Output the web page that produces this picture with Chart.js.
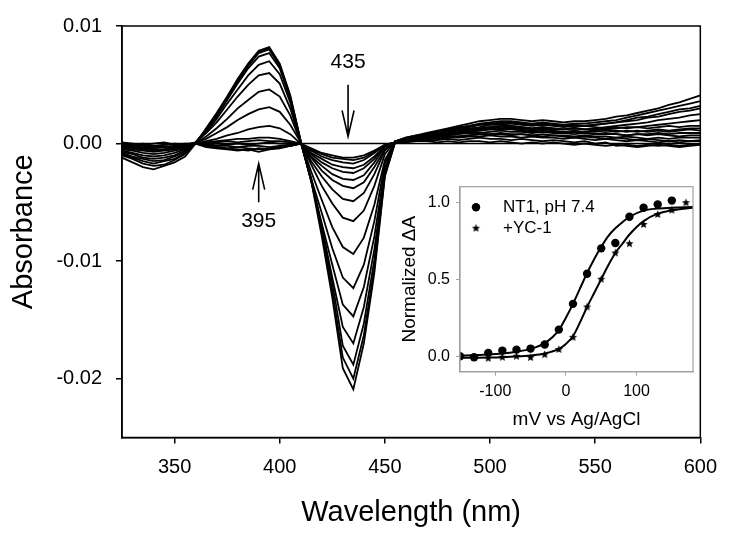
<!DOCTYPE html>
<html>
<head>
<meta charset="utf-8">
<script src="https://cdn.jsdelivr.net/npm/chart.js@4.4.0/dist/chart.umd.min.js"></script>
<style>
html, body { margin: 0; padding: 0; background: #fff; }
#wrap { position: relative; width: 729px; height: 539px; }
#main { position: absolute; left: 0; top: 0; }
#inset { position: absolute; left: 395px; top: 170px; }
</style>
</head>
<body>
<div id="wrap">
<canvas id="main" width="729" height="539"></canvas>
<canvas id="inset" width="310" height="270"></canvas>
</div>
<script>
// wavelength grid (nm)
const wavelength = [325,330,335,340,345,350,355,360,365,370,375,380,385,390,395,400,405,410,
  415,420,425,430,435,440,445,450,455,460,465,470,475,480,485,490,495,500,505,510,515,520,
  525,530,535,540,545,550,555,560,565,570,575,580,585,590,595,600];

// difference spectra, shallow -> deep
const spec01 = [0,-0.0001,0,-0.0002,-0.0001,0,-0.0001,0, -0.0002,-0.0003,-0.0004,-0.0005,-0.0006,-0.0004,-0.0005,-0.0003,-0.0002,0,
  -0.0004,-0.0008,-0.0010,-0.0012,-0.0012,-0.0010,-0.0006,-0.0001,0.0001,
  0.0001,0.0002,0.0002,0.0001,0.0002,0.0001,0.0002,0.0002,0.0001,0.0002,0.0001,0,0.0001,0,0.0001,0,-0.0001,0,-0.0001,-0.0002,-0.0001,-0.0002,-0.0003,-0.0002,-0.0001,-0.0002,-0.0003,-0.0002,-0.0001];
const spec02 = [-0.0001,-0.0002,-0.0003,-0.0002,-0.0003,-0.0002,-0.0001,0, -0.0003,-0.0004,-0.0005,-0.0006,-0.0005,-0.0007,-0.0005,-0.0004,-0.0002,0,
  -0.0005,-0.0009,-0.0012,-0.0013,-0.0014,-0.0012,-0.0007,-0.0001,0.0001,
  0.0002,0.0003,0.0004,0.0005,0.0006,0.0006,0.0007,0.0008,0.0008,0.0008,0.0007,0.0008,0.0007,0.0006,0.0007,0.0006,0.0005,0.0006,0.0005,0.0004,0.0005,0.0004,0.0003,0.0004,0.0003,0.0002,0.0003,0.0002,0.0003];
const spec03 = [0.0001,0,-0.0001,0,0.0001,-0.0001,0,0, -0.0002,-0.0003,-0.0004,-0.0003,-0.0004,-0.0005,-0.0004,-0.0003,-0.0002,0,
  -0.0006,-0.0011,-0.0014,-0.0016,-0.0017,-0.0014,-0.0008,-0.0001,0.0001,
  0.0003,0.0004,0.0006,0.0007,0.0008,0.0009,0.0010,0.0011,0.0012,0.0012,0.0012,0.0011,0.0010,0.0011,0.0010,0.0009,0.0010,0.0009,0.0008,0.0009,0.0008,0.0007,0.0008,0.0007,0.0008,0.0007,0.0006,0.0007,0.0007];
const spec04 = [-0.0002,-0.0003,-0.0004,-0.0004,-0.0003,-0.0004,-0.0002,0, -0.0001,-0.0002,-0.0002,-0.0003,-0.0002,-0.0002,-0.0003,-0.0002,-0.0001,0,
  -0.0008,-0.0013,-0.0018,-0.0020,-0.0021,-0.0018,-0.0011,-0.0002,0.0001,
  0.0004,0.0005,0.0007,0.0008,0.0010,0.0011,0.0012,0.0013,0.0014,0.0015,0.0015,0.0014,0.0013,0.0014,0.0013,0.0012,0.0013,0.0012,0.0011,0.0012,0.0011,0.0010,0.0011,0.0010,0.0011,0.0010,0.0011,0.0012,0.0011];
const spec05 = [-0.0001,-0.0002,-0.0001,-0.0002,-0.0003,-0.0002,-0.0001,0, -0.0001,0,-0.0001,0,-0.0001,0,0.0001,0,0,0,
  -0.0009,-0.0016,-0.0021,-0.0024,-0.0025,-0.0021,-0.0013,-0.0002,0.0001,
  0.0004,0.0006,0.0008,0.0010,0.0012,0.0013,0.0015,0.0016,0.0017,0.0018,0.0018,0.0017,0.0016,0.0017,0.0016,0.0015,0.0014,0.0015,0.0014,0.0013,0.0014,0.0013,0.0014,0.0013,0.0014,0.0015,0.0014,0.0015,0.0015];
const spec06 = [-0.0003,-0.0004,-0.0004,-0.0005,-0.0005,-0.0004,-0.0002,0, 0,0.0001,0.0002,0.0001,0.0002,0.0003,0.0002,0.0002,0.0001,0,
  -0.0011,-0.0019,-0.0026,-0.0030,-0.0031,-0.0027,-0.0016,-0.0003,0.0001,
  0.0004,0.0005,0.0006,0.0007,0.0009,0.0010,0.0011,0.0012,0.0013,0.0013,0.0014,0.0013,0.0012,0.0013,0.0012,0.0012,0.0013,0.0012,0.0013,0.0014,0.0015,0.0016,0.0017,0.0018,0.0020,0.0021,0.0022,0.0024,0.0025];
const spec07 = [-0.0002,-0.0001,-0.0003,-0.0003,-0.0002,-0.0003,-0.0001,0.0001, 0.0001,0.0002,0.0003,0.0004,0.0004,0.0005,0.0005,0.0004,0.0002,0,
  -0.0012,-0.0023,-0.0031,-0.0036,-0.0038,-0.0033,-0.0020,-0.0005,0.0001,
  0.0004,0.0006,0.0007,0.0009,0.0010,0.0012,0.0013,0.0014,0.0016,0.0016,0.0017,0.0016,0.0015,0.0016,0.0015,0.0014,0.0015,0.0015,0.0016,0.0017,0.0018,0.0020,0.0022,0.0023,0.0025,0.0027,0.0029,0.0030,0.0032];
const spec08 = [-0.0003,-0.0004,-0.0005,-0.0006,-0.0005,-0.0004,-0.0002,0, 0.0002,0.0004,0.0007,0.0009,0.0012,0.0014,0.0015,0.0013,0.0008,0,
  -0.0015,-0.0028,-0.0039,-0.0047,-0.0049,-0.0042,-0.0026,-0.0006,0.0002,
  0.0005,0.0007,0.0008,0.0010,0.0012,0.0014,0.0015,0.0017,0.0018,0.0019,0.0019,0.0018,0.0017,0.0018,0.0017,0.0016,0.0017,0.0017,0.0018,0.0019,0.0020,0.0022,0.0024,0.0026,0.0028,0.0030,0.0032,0.0034,0.0036];
const spec09 = [-0.0004,-0.0005,-0.0006,-0.0007,-0.0006,-0.0005,-0.0003,0.0001, 0.0004,0.0009,0.0014,0.0020,0.0025,0.0029,0.0031,0.0027,0.0016,0.0001,
  -0.0018,-0.0036,-0.0051,-0.0063,-0.0066,-0.0057,-0.0036,-0.0009,0.0002,
  0.0005,0.0007,0.0009,0.0011,0.0013,0.0015,0.0017,0.0019,0.0020,0.0021,0.0021,0.0020,0.0019,0.0020,0.0019,0.0018,0.0019,0.0019,0.0020,0.0021,0.0023,0.0024,0.0026,0.0028,0.0030,0.0033,0.0035,0.0038,0.0041];
const spec10 = [-0.0005,-0.0006,-0.0008,-0.0009,-0.0008,-0.0006,-0.0004,0, 0.0006,0.0013,0.0021,0.0030,0.0037,0.0044,0.0046,0.0040,0.0024,0.0001,
  -0.0024,-0.0048,-0.0071,-0.0088,-0.0094,-0.0080,-0.0052,-0.0014,0.0002,
  0.0004,0.0006,0.0008,0.0010,0.0011,0.0013,0.0014,0.0016,0.0017,0.0017,0.0018,0.0017,0.0016,0.0017,0.0016,0.0015,0.0016,0.0015,0.0016,0.0017,0.0018,0.0019,0.0020,0.0022,0.0023,0.0025,0.0027,0.0028,0.0030];
const spec11 = [-0.0006,-0.0008,-0.0010,-0.0011,-0.0010,-0.0008,-0.0005,0.0001, 0.0009,0.0018,0.0029,0.0040,0.0050,0.0058,0.0060,0.0051,0.0030,0.0001,
  -0.0030,-0.0059,-0.0089,-0.0114,-0.0123,-0.0103,-0.0066,-0.0017,0.0002,
  0.0004,0.0005,0.0007,0.0008,0.0009,0.0011,0.0012,0.0013,0.0014,0.0014,0.0015,0.0014,0.0013,0.0014,0.0013,0.0012,0.0013,0.0012,0.0012,0.0013,0.0013,0.0014,0.0014,0.0015,0.0016,0.0017,0.0018,0.0019,0.0020];
const spec12 = [-0.0007,-0.0009,-0.0012,-0.0013,-0.0012,-0.0010,-0.0006,0, 0.0010,0.0021,0.0034,0.0046,0.0058,0.0067,0.0070,0.0059,0.0035,0.0001,
  -0.0032,-0.0068,-0.0103,-0.0137,-0.0147,-0.0122,-0.0079,-0.0021,0.0002,
  0.0003,0.0005,0.0006,0.0007,0.0008,0.0009,0.0010,0.0011,0.0012,0.0012,0.0013,0.0012,0.0011,0.0012,0.0011,0.0010,0.0011,0.0010,0.0010,0.0011,0.0010,0.0011,0.0010,0.0011,0.0012,0.0011,0.0012,0.0013,0.0013];
const spec13 = [-0.0008,-0.0011,-0.0013,-0.0015,-0.0014,-0.0011,-0.0007,0.0001, 0.0011,0.0023,0.0037,0.0051,0.0064,0.0074,0.0077,0.0064,0.0038,0.0002,
  -0.0032,-0.0071,-0.0114,-0.0156,-0.0170,-0.0139,-0.0090,-0.0024,0.0002,
  0.0003,0.0004,0.0005,0.0006,0.0007,0.0008,0.0009,0.0009,0.0010,0.0011,0.0010,0.0010,0.0009,0.0010,0.0009,0.0009,0.0008,0.0009,0.0008,0.0008,0.0008,0.0007,0.0008,0.0008,0.0009,0.0008,0.0009,0.0009,0.0009];
const spec14 = [-0.0009,-0.0012,-0.0015,-0.0017,-0.0015,-0.0013,-0.0008,0, 0.0012,0.0024,0.0038,0.0053,0.0066,0.0077,0.0080,0.0066,0.0039,0.0001,
  -0.0030,-0.0071,-0.0118,-0.0172,-0.0188,-0.0153,-0.0099,-0.0025,0.0002,
  0.0003,0.0004,0.0004,0.0005,0.0006,0.0006,0.0007,0.0008,0.0008,0.0009,0.0008,0.0008,0.0007,0.0008,0.0007,0.0007,0.0006,0.0007,0.0006,0.0006,0.0005,0.0006,0.0005,0.0004,0.0005,0.0004,0.0005,0.0005,0.0005];
const spec15 = [-0.0010,-0.0013,-0.0017,-0.0019,-0.0018,-0.0014,-0.0009,0.0001, 0.0012,0.0025,0.0039,0.0054,0.0067,0.0078,0.0081,0.0067,0.0040,0.0002,
  -0.0031,-0.0075,-0.0125,-0.0182,-0.0200,-0.0163,-0.0106,-0.0027,0.0002,
  0.0002,0.0003,0.0004,0.0004,0.0005,0.0005,0.0006,0.0006,0.0007,0.0006,0.0006,0.0005,0.0006,0.0005,0.0005,0.0004,0.0005,0.0004,0.0003,0.0004,0.0003,0.0002,0.0003,0.0002,0.0001,0.0002,0.0001,0.0002,0.0002];
const spec16 = [-0.0012,-0.0016,-0.0020,-0.0022,-0.0019,-0.0016,-0.0011,0, 0.0013,0.0026,0.0040,0.0055,0.0068,0.0079,0.0082,0.0068,0.0041,0.0002,
  -0.0032,-0.0079,-0.0131,-0.0191,-0.0209,-0.0170,-0.0110,-0.0028,0.0002,
  0.0002,0.0002,0.0003,0.0003,0.0004,0.0003,0.0004,0.0005,0.0004,0.0004,0.0003,0.0004,0.0003,0.0002,0.0003,0.0002,0.0001,0.0002,0,0.0001,-0.0002,-0.0001,-0.0002,-0.0001,-0.0002,-0.0001,-0.0002,-0.0001,0];

const spectra = [spec01, spec02, spec03, spec04, spec05, spec06, spec07, spec08,
  spec09, spec10, spec11, spec12, spec13, spec14, spec15, spec16];

const baselineX = [325, 600];
const baselineY = [0, 0];

const wlTicks = [350, 400, 450, 500, 550, 600];
const absTicks = [-0.02, -0.01, 0, 0.01];

// inset: redox titration
const potCircle = [-150,-130,-110,-90,-70,-50,-30,-10,10,30,50,70,90,110,130,150];
const normCircle = [0,-0.006,0.022,0.037,0.043,0.05,0.076,0.173,0.34,0.535,0.70,0.735,0.905,0.963,0.985,1.01];
const potStar = [-130,-110,-90,-70,-50,-30,-10,10,30,50,70,90,110,130,150,170];
const normStar = [-0.008,-0.013,-0.006,0,-0.008,0.011,0.044,0.123,0.32,0.50,0.67,0.73,0.855,0.92,0.948,0.996];

const fitPot = [-150,-130,-110,-90,-70,-50,-30,-10,0,10,20,30,40,50,60,70,80,90,110,130,150,180];
const fitCircle = [0.004,0.007,0.011,0.018,0.03,0.048,0.085,0.17,0.25,0.34,0.44,0.54,0.63,0.71,0.78,0.83,0.87,0.905,0.945,0.958,0.964,0.968];
const fitStar = [-0.01,-0.009,-0.008,-0.006,-0.002,0.005,0.018,0.048,0.08,0.13,0.22,0.32,0.41,0.50,0.59,0.67,0.73,0.79,0.877,0.925,0.946,0.963];

const mvTicks = [-100, 0, 100];
const normTicks = [0, 0.5, 1];

const seriesNames = ['NT1, pH 7.4', '+YC-1'];

const FONT = "'Liberation Sans', Arial, sans-serif";

function pts(xs, ys) {
  return xs.map((x, i) => ({ x: x, y: ys[i] }));
}

function makeStar(r) {
  const c = document.createElement('canvas');
  const s = Math.ceil(r * 2 + 2);
  c.width = s; c.height = s;
  const g = c.getContext('2d');
  g.beginPath();
  for (let i = 0; i < 10; i++) {
    const a = -Math.PI / 2 + i * Math.PI / 5;
    const rr = i % 2 ? r * 0.45 : r;
    g.lineTo(s / 2 + rr * Math.cos(a), s / 2 + rr * Math.sin(a));
  }
  g.closePath();
  g.fillStyle = '#000';
  g.fill();
  return c;
}
const starImg = makeStar(4.3);

// frame around plot area
const boxPlugin = {
  id: 'box',
  afterDraw(chart, args, opts) {
    const a = chart.chartArea, c = chart.ctx;
    c.save();
    c.strokeStyle = opts.color;
    c.lineWidth = opts.width;
    c.strokeRect(a.left, a.top, a.right - a.left, a.bottom - a.top);
    c.restore();
  }
};

const arrows = [
  { text: '435', x: 432.5, from: 0.0050, to: 0.0006, textY: 0.0069 },
  { text: '395', x: 390, from: -0.0050, to: -0.0017, textY: -0.0066 }
];

const arrowPlugin = {
  id: 'arrows',
  afterDatasetsDraw(chart) {
    const c = chart.ctx, xs = chart.scales.x, ys = chart.scales.y;
    c.save();
    c.strokeStyle = '#000';
    c.fillStyle = '#000';
    c.lineWidth = 1.6;
    c.font = '21px ' + FONT;
    c.textAlign = 'center';
    c.textBaseline = 'middle';
    arrows.forEach(a => {
      const x = xs.getPixelForValue(a.x);
      const y0 = ys.getPixelForValue(a.from);
      const y1 = ys.getPixelForValue(a.to);
      const dir = y1 > y0 ? 1 : -1;
      c.beginPath();
      c.moveTo(x, y0); c.lineTo(x, y1);
      c.moveTo(x - 6, y1 - dir * 26); c.lineTo(x, y1); c.lineTo(x + 6, y1 - dir * 26);
      c.stroke();
      c.fillText(a.text, x, ys.getPixelForValue(a.textY));
    });
    c.restore();
  }
};

const mainSets = spectra.map(s => ({
  data: pts(wavelength, s),
  showLine: true,
  borderColor: '#000',
  borderWidth: 1.8,
  pointRadius: 0,
  tension: 0
}));
mainSets.push({
  data: pts(baselineX, baselineY),
  showLine: true, borderColor: '#000', borderWidth: 1.6, pointRadius: 0
});

new Chart(document.getElementById('main'), {
  type: 'scatter',
  data: { datasets: mainSets },
  options: {
    responsive: false,
    animation: false,
    layout: { padding: { left: 7, top: 21, right: 26, bottom: 9 } },
    plugins: { legend: { display: false }, tooltip: { enabled: false }, box: { color: '#000', width: 1.5 } },
    scales: {
      x: {
        type: 'linear', min: 325, max: 600,
        afterBuildTicks: s => { s.ticks = wlTicks.map(v => ({ value: v })); },
        afterFit: s => { s.height = 92.5; },
        grid: { drawOnChartArea: false, drawTicks: true, tickLength: 6, color: '#000', lineWidth: 1.5 },
        border: { display: true, color: '#000', width: 1.5 },
        ticks: { color: '#000', font: { family: FONT, size: 20 }, padding: 12, maxRotation: 0 },
        title: { display: true, text: 'Wavelength (nm)', color: '#000', font: { family: FONT, size: 29 }, padding: 0 }
      },
      y: {
        min: -0.025, max: 0.01,
        afterBuildTicks: s => { s.ticks = absTicks.map(v => ({ value: v })); },
        afterFit: s => { s.width = 115; },
        grid: { drawOnChartArea: false, drawTicks: true, tickLength: 6, color: '#000', lineWidth: 1.5 },
        border: { display: true, color: '#000', width: 1.5 },
        ticks: { color: '#000', font: { family: FONT, size: 20 }, padding: 14, callback: v => v.toFixed(2) },
        title: { display: true, text: 'Absorbance', color: '#000', font: { family: FONT, size: 29 }, padding: 0 }
      }
    }
  },
  plugins: [boxPlugin, arrowPlugin]
});

// inset legend
const legendPlugin = {
  id: 'insetLegend',
  afterDraw(chart) {
    const c = chart.ctx, a = chart.chartArea;
    c.save();
    c.font = '17px ' + FONT;
    c.fillStyle = '#000';
    c.textBaseline = 'middle';
    c.textAlign = 'left';
    const y1 = a.top + 20.5, y2 = a.top + 41.5, mx = a.left + 16;
    c.beginPath();
    c.arc(mx, y1, 4.2, 0, Math.PI * 2);
    c.fill();
    c.drawImage(starImg, mx - starImg.width / 2, y2 - starImg.height / 2);
    c.fillText(seriesNames[0], a.left + 43, y1);
    c.fillText(seriesNames[1], a.left + 43, y2);
    c.restore();
  }
};

new Chart(document.getElementById('inset'), {
  type: 'scatter',
  data: {
    datasets: [
      { data: pts(fitPot, fitCircle), showLine: true, borderColor: '#000', borderWidth: 2, pointRadius: 0, cubicInterpolationMode: 'monotone' },
      { data: pts(fitPot, fitStar), showLine: true, borderColor: '#000', borderWidth: 2, pointRadius: 0, cubicInterpolationMode: 'monotone' },
      { label: seriesNames[0], data: pts(potCircle, normCircle), pointStyle: 'circle', pointRadius: 4.2, backgroundColor: '#000', borderColor: '#000', borderWidth: 0 },
      { label: seriesNames[1], data: pts(potStar, normStar), pointStyle: starImg, pointRadius: 4.3 }
    ]
  },
  options: {
    responsive: false,
    animation: false,
    layout: { padding: { left: 3.6, top: 16.7, right: 12, bottom: 8.6 } },
    plugins: { legend: { display: false }, tooltip: { enabled: false }, box: { color: '#a0a0a0', width: 1.2 } },
    scales: {
      x: {
        type: 'linear', min: -150, max: 180,
        afterBuildTicks: s => { s.ticks = mvTicks.map(v => ({ value: v })); },
        afterFit: s => { s.height = 59.7; },
        grid: { drawOnChartArea: false, drawTicks: true, tickLength: 4, color: '#a0a0a0' },
        border: { display: true, color: '#a0a0a0', width: 1.2 },
        ticks: { color: '#000', font: { family: FONT, size: 16 }, padding: 6, maxRotation: 0 },
        title: { display: true, text: 'mV vs Ag/AgCl', color: '#000', font: { family: FONT, size: 19 }, padding: 0 }
      },
      y: {
        min: -0.1, max: 1.1,
        afterBuildTicks: s => { s.ticks = normTicks.map(v => ({ value: v })); },
        afterFit: s => { s.width = 61.4; },
        grid: { drawOnChartArea: false, drawTicks: true, tickLength: 4, color: '#a0a0a0' },
        border: { display: true, color: '#a0a0a0', width: 1.2 },
        ticks: { color: '#000', font: { family: FONT, size: 16 }, padding: 6, callback: v => v.toFixed(1) },
        title: { display: true, text: 'Normalized \u0394A', color: '#000', font: { family: FONT, size: 19 }, padding: 0 }
      }
    }
  },
  plugins: [boxPlugin, legendPlugin]
});
</script>
</body>
</html>
